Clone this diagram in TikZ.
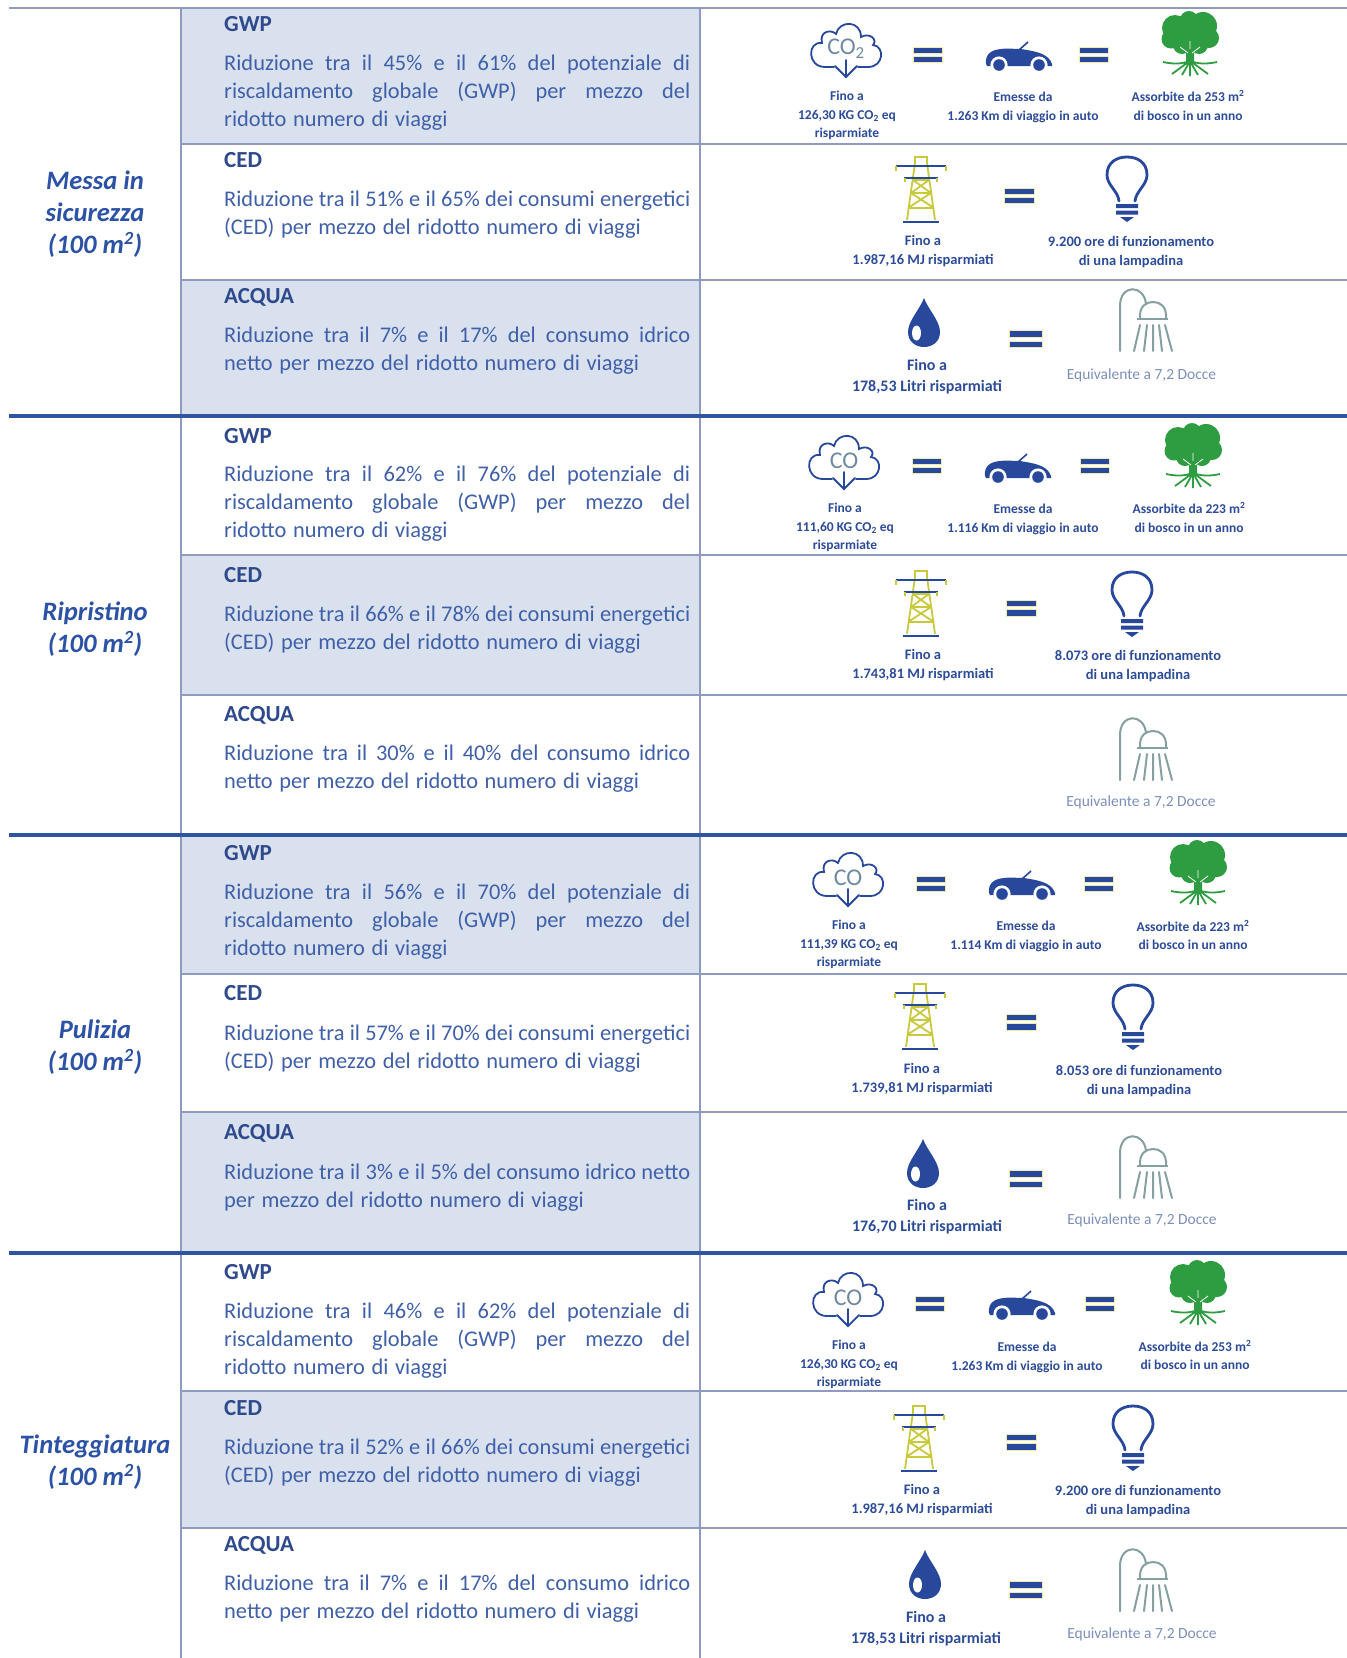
\documentclass[tikz,border=0pt]{standalone}
\usepackage{fontspec}
\setmainfont{Carlito}
\definecolor{shade}{HTML}{D9E1EF}
\definecolor{thinline}{HTML}{8E9AC0}
\definecolor{thickline}{HTML}{2F55A0}
\definecolor{bodyblue}{HTML}{3F60A8}
\definecolor{headblue}{HTML}{2F4A8C}
\definecolor{labelblue}{HTML}{2C52A6}
\definecolor{iconblue}{HTML}{28489C}
\definecolor{smallblue}{HTML}{2D4C98}
\definecolor{treegreen}{HTML}{2E9C40}
\definecolor{toweryellow}{HTML}{C9C93E}
\definecolor{showergrey}{HTML}{86A0A2}
\definecolor{eqedge}{HTML}{EFEBB0}
\definecolor{equivtext}{HTML}{7C90B8}
\newcommand{\jl}[1]{\leavevmode\hbox to 466pt{\spaceskip=4.6pt plus 1fil minus 1fil\rule{0pt}{17pt}#1}}
\newcommand{\rl}[1]{\leavevmode\hbox{\spaceskip=6.6pt\rule{0pt}{17pt}#1}}
\tikzset{
  rowline/.style={draw=thinline,line width=1.2pt},
  blockline/.style={draw=thickline,line width=3.4pt},
  colline/.style={draw=thinline,line width=1.2pt},
  shaded/.style={fill=shade,draw=none},
  headtext/.style={anchor=west,inner sep=0pt,yshift=-1pt,text=headblue,font=\fontsize{23}{26}\selectfont\bfseries},
  bodytext/.style={anchor=north west,inner sep=0pt,yshift=-1pt,text width=480pt,align=left,text=bodyblue,font=\fontsize{22.4}{28}\selectfont},
  blocklabel/.style={inner sep=0pt,yshift=-2pt,align=center,text=labelblue,font=\fontsize{26.6}{32}\selectfont\bfseries\itshape},
  small/.style={inner sep=0pt,yshift=-1.5pt,align=center,text=smallblue,font=\fontsize{13.5}{18.5}\selectfont\bfseries},
  waterfino/.style={inner sep=0pt,yshift=-1pt,align=center,text=smallblue,font=\fontsize{16}{21}\selectfont\bfseries},
  powertxt/.style={inner sep=0pt,yshift=-1pt,align=center,text=smallblue,font=\fontsize{14.5}{19}\selectfont\bfseries},
  equiv/.style={inner sep=0pt,yshift=-1pt,text=equivtext,font=\fontsize{15.5}{18}\selectfont},
  pics/eqicon/.style={code={
    \path[fill=iconblue,draw=eqedge,line width=.3pt] ({-#1/2},{-0.26*#1}) rectangle ({#1/2},{-0.05*#1});
    \path[fill=iconblue,draw=eqedge,line width=.3pt] ({-#1/2},{0.05*#1}) rectangle ({#1/2},{0.26*#1});
  }},
  pics/cloudicon/.style={code={
    \draw[iconblue,line width=1.8pt,line cap=round]
      (-12,19) -- (-21,19) .. controls (-39,19) and (-39,-7) .. (-24,-5)
      .. controls (-27,-17) and (-15,-19) .. (-10,-14)
      .. controls (-7,-28) and (15,-28) .. (15,-11)
      .. controls (24,-16) and (32,-8) .. (27,-3)
      .. controls (39,-2) and (38,19) .. (22,19) -- (12,19);
    \draw[iconblue,line width=1.8pt,line cap=round] (0,12) -- (0,29);
    \draw[iconblue,line width=1.8pt,line cap=round] (-11,18) -- (0,29) -- (11,18);
    \node[inner sep=0pt,text=showergrey!75!iconblue,font=\fontsize{24}{24}\selectfont] (-t) at (0,1) {#1};
  }},
  pics/caricon/.style={code={
    \fill[iconblue] (-33,8) .. controls (-34,-2) and (-28,-6) .. (-18,-7)
      .. controls (-12,-8) and (-6,-7) .. (2,-7) -- (8,-6)
      .. controls (20,-4) and (30,-1) .. (33,8) -- (33,10) -- (-32,10) -- cycle;
    \draw[iconblue,line width=1.6pt] (0,-6) -- (9,-14);
    \fill[white] (-20,9) circle (8.6pt);
    \fill[white] (20,9) circle (8.6pt);
    \fill[iconblue] (-20,9) circle (5.8pt);
    \fill[iconblue] (20,9) circle (5.8pt);
  }},
  pics/treeicon/.style={code={
    \fill[treegreen] (-15,-16) circle (13pt) (13,-18) circle (14pt) (-1,-24) circle (9pt)
      (-19,-5) circle (9.5pt) (19,-6) circle (10pt) (0,-12) circle (14pt) (-8,1) circle (9pt) (9,1) circle (9pt) (-14,-10) circle (10pt) (14,-10) circle (10pt);
    \fill[treegreen] (-4,6) -- (-14,-2) -- (-11,-4) -- (-2,1) -- (-1,-8) -- (2,-8) -- (3,1) -- (11,-4) -- (14,-2) -- (4,6) -- (4,20) -- (-4,20) -- cycle;
    \draw[white,line width=.8pt] (-2,9) -- (-10,3) (2,9) -- (10,3) (0,5) -- (0,-3);
    \draw[treegreen,line width=1.8pt]
      (-3,18) .. controls (-10,20) and (-18,20) .. (-27,18)
      (3,18) .. controls (10,20) and (18,20) .. (27,18)
      (-3,19) -- (-18,30) (-1,19) -- (-8,31) (0,19) -- (0,32) (1,19) -- (8,31) (3,19) -- (18,30);
  }},
  pics/towericon/.style={code={
    \draw[toweryellow,line width=1.8pt]
      (-6,-27) -- (-6,-33) -- (6,-33) -- (6,-27)
      (-6,-27) -- (-14,30) (6,-27) -- (14,30)
      (-8,-10) -- (8,-10) (-10,3) -- (10,3) (-13,18) -- (13,18)
      (-8,-10) -- (10,3) (8,-10) -- (-10,3)
      (-10,3) -- (13,18) (10,3) -- (-13,18);
    \draw[iconblue,line width=2pt] (-25,-24) -- (25,-24) (-17,-12) -- (17,-12) (-18,32) -- (18,32);
    \draw[toweryellow,line width=1.2pt] (-25,-24) -- (-25,-19) (25,-24) -- (25,-19) (-16,-12) -- (-16,-8) (16,-12) -- (16,-8);
  }},
  pics/bulbicon/.style={code={
    \draw[iconblue,line width=2.8pt,line cap=round,line join=round]
      (-8,12) .. controls (-9,2) and (-20,-4) .. (-20,-14)
      .. controls (-20,-27) and (-10,-32) .. (0,-32)
      .. controls (10,-32) and (20,-27) .. (20,-14)
      .. controls (20,-4) and (9,2) .. (8,12);
    \fill[iconblue] (-11,15) rectangle (11,19) (-11,21.5) rectangle (11,25.5) (-7,28) -- (7,28) -- (0,33) -- cycle;
  }},
  pics/dropicon/.style={code={
    \fill[iconblue] (0,-25) .. controls (4,-14) and (16,-2) .. (16,9)
      .. controls (16,19) and (8,24) .. (0,24)
      .. controls (-8,24) and (-16,19) .. (-16,9)
      .. controls (-16,-2) and (-4,-14) .. (0,-25) -- cycle;
    \fill[white] (-7.5,10) ellipse (4.5pt and 7.5pt);
  }},
  pics/showericon/.style={code={
    \draw[showergrey,line width=2pt,line cap=round]
      (-27,31) -- (-27,-14) .. controls (-27,-36) and (-3,-36) .. (-1,-16);
    \draw[showergrey,line width=2pt]
      (-7,-1) .. controls (-8,-14) and (-1,-18) .. (6,-18)
      .. controls (13,-18) and (20,-14) .. (19,-1);
    \draw[showergrey,line width=2.4pt] (-10,-1) -- (21,-1);
    \draw[showergrey,line width=2pt,line cap=round]
      (-7,5) -- (-13,31) (0,5) -- (-3,31) (6,5) -- (6,31) (12,5) -- (15,31) (18,5) -- (25,31);
  }}
}
\begin{document}
\begin{tikzpicture}[x=1pt,y=-1pt]
\useasboundingbox (0,0) rectangle (1347,1658);
\fill[white] (0,0) rectangle (1347,1658);
% shaded cells
\path[shaded] (181,8) rectangle (700,144);
\path[shaded] (181,280) rectangle (700,416);
\path[shaded] (181,555) rectangle (700,695);
\path[shaded] (181,835) rectangle (700,974);
\path[shaded] (181,1112) rectangle (700,1253);
\path[shaded] (181,1391) rectangle (700,1528);
% rules
\draw[colline] (181,8) -- (181,1658);
\draw[colline] (700,8) -- (700,1658);
\draw[rowline] (9,8) -- (1347,8);
\foreach \yy in {144,280,555,695,974,1112,1391,1528} \draw[rowline] (181,\yy) -- (1347,\yy);
\foreach \yy in {416,835,1253} \draw[blockline] (9,\yy) -- (1347,\yy);
% block labels
\node[blocklabel] (lab1) at (95,212) {Messa in\\sicurezza\\(100 m\textsuperscript{2})};
\node[blocklabel] (lab2) at (95,627) {Ripristino\\(100 m\textsuperscript{2})};
\node[blocklabel] (lab3) at (95,1045) {Pulizia\\(100 m\textsuperscript{2})};
\node[blocklabel] (lab4) at (95,1460) {Tinteggiatura\\(100 m\textsuperscript{2})};
% block 1
\node[headtext] (h11) at (224,23) {GWP};
\node[bodytext] (b11) at (224,52) {\jl{Riduzione tra il 45\% e il 61\% del potenziale di}\\\jl{riscaldamento globale (GWP) per mezzo del}\\\rl{ridotto numero di viaggi}};
\node[headtext] (h12) at (224,159) {CED};
\node[bodytext] (b12) at (224,188) {\jl{Riduzione tra il 51\% e il 65\% dei consumi energetici}\\\rl{(CED) per mezzo del ridotto numero di viaggi}};
\node[headtext] (h13) at (224,296) {ACQUA};
\node[bodytext] (b13) at (224,324) {\jl{Riduzione tra il 7\% e il 17\% del consumo idrico}\\\rl{netto per mezzo del ridotto numero di viaggi}};
% block 2
\node[headtext] (h21) at (224,435) {GWP};
\node[bodytext] (b21) at (224,463) {\jl{Riduzione tra il 62\% e il 76\% del potenziale di}\\\jl{riscaldamento globale (GWP) per mezzo del}\\\rl{ridotto numero di viaggi}};
\node[headtext] (h22) at (224,574) {CED};
\node[bodytext] (b22) at (224,603) {\jl{Riduzione tra il 66\% e il 78\% dei consumi energetici}\\\rl{(CED) per mezzo del ridotto numero di viaggi}};
\node[headtext] (h23) at (224,714) {ACQUA};
\node[bodytext] (b23) at (224,742) {\jl{Riduzione tra il 30\% e il 40\% del consumo idrico}\\\rl{netto per mezzo del ridotto numero di viaggi}};
% block 3
\node[headtext] (h31) at (224,852) {GWP};
\node[bodytext] (b31) at (224,881) {\jl{Riduzione tra il 56\% e il 70\% del potenziale di}\\\jl{riscaldamento globale (GWP) per mezzo del}\\\rl{ridotto numero di viaggi}};
\node[headtext] (h32) at (224,992) {CED};
\node[bodytext] (b32) at (224,1022) {\jl{Riduzione tra il 57\% e il 70\% dei consumi energetici}\\\rl{(CED) per mezzo del ridotto numero di viaggi}};
\node[headtext] (h33) at (224,1132) {ACQUA};
\node[bodytext] (b33) at (224,1161) {\jl{Riduzione tra il 3\% e il 5\% del consumo idrico netto}\\\rl{per mezzo del ridotto numero di viaggi}};
% block 4
\node[headtext] (h41) at (224,1271) {GWP};
\node[bodytext] (b41) at (224,1300) {\jl{Riduzione tra il 46\% e il 62\% del potenziale di}\\\jl{riscaldamento globale (GWP) per mezzo del}\\\rl{ridotto numero di viaggi}};
\node[headtext] (h42) at (224,1407) {CED};
\node[bodytext] (b42) at (224,1436) {\jl{Riduzione tra il 52\% e il 66\% dei consumi energetici}\\\rl{(CED) per mezzo del ridotto numero di viaggi}};
\node[headtext] (h43) at (224,1544) {ACQUA};
\node[bodytext] (b43) at (224,1572) {\jl{Riduzione tra il 7\% e il 17\% del consumo idrico}\\\rl{netto per mezzo del ridotto numero di viaggi}};
% icons block 1
\pic (c1) at (846,48) {cloudicon={CO\textsubscript{2}}};
\pic at (928,55) {eqicon=29};
\pic at (1019,56) {caricon};
\pic at (1094,55) {eqicon=29};
\pic at (1190,44) {treeicon};
\node[small] (t1a) at (847,114) {Fino a\\126,30 KG CO\textsubscript{2} eq\\risparmiate};
\node[small] (t1b) at (1023,106) {Emesse da\\1.263 Km di viaggio in auto};
\node[small] (t1c) at (1188,104) {Assorbite da 253 m\textsuperscript{2}\\di bosco in un anno};
\pic at (921,190) {towericon};
\pic at (1019,195.5) {eqicon=30};
\pic at (1127,189) {bulbicon};
\node[powertxt] (t1d) at (923,250) {Fino a\\1.987,16 MJ risparmiati};
\node[powertxt] (t1e) at (1131,251) {9.200 ore di funzionamento\\di una lampadina};
\pic at (924,323) {dropicon};
\pic at (1026,339) {eqicon=33};
\pic at (1147,320) {showericon};
\node[waterfino] (t1f) at (927,375.5) {Fino a\\178,53 Litri risparmiati};
\node[equiv] (t1g) at (1141.5,374) {Equivalente a 7,2 Docce};
% icons block 2
\pic (c2) at (844,460) {cloudicon={CO}};
\pic at (927,466) {eqicon=29};
\pic at (1018,468) {caricon};
\pic at (1095,466) {eqicon=29};
\pic at (1193,456) {treeicon};
\node[small] (t2a) at (845,526) {Fino a\\111,60 KG CO\textsubscript{2} eq\\risparmiate};
\node[small] (t2b) at (1023,518) {Emesse da\\1.116 Km di viaggio in auto};
\node[small] (t2c) at (1189,516) {Assorbite da 223 m\textsuperscript{2}\\di bosco in un anno};
\pic at (921,604) {towericon};
\pic at (1021,608) {eqicon=30};
\pic at (1132,604) {bulbicon};
\node[powertxt] (t2d) at (923,664) {Fino a\\1.743,81 MJ risparmiati};
\node[powertxt] (t2e) at (1138,665.5) {8.073 ore di funzionamento\\di una lampadina};
\pic at (1147,749) {showericon};
\node[equiv] (t2g) at (1141,801.5) {Equivalente a 7,2 Docce};
% icons block 3
\pic (c3) at (848,877) {cloudicon={CO}};
\pic at (931,884) {eqicon=29};
\pic at (1022,885) {caricon};
\pic at (1099,884) {eqicon=29};
\pic at (1198,873) {treeicon};
\node[small] (t3a) at (849,943) {Fino a\\111,39 KG CO\textsubscript{2} eq\\risparmiate};
\node[small] (t3b) at (1026,935) {Emesse da\\1.114 Km di viaggio in auto};
\node[small] (t3c) at (1193,933.5) {Assorbite da 223 m\textsuperscript{2}\\di bosco in un anno};
\pic at (920,1017) {towericon};
\pic at (1021,1022) {eqicon=30};
\pic at (1133,1017) {bulbicon};
\node[powertxt] (t3d) at (922,1078) {Fino a\\1.739,81 MJ risparmiati};
\node[powertxt] (t3e) at (1139,1080) {8.053 ore di funzionamento\\di una lampadina};
\pic at (923,1164) {dropicon};
\pic at (1026,1179) {eqicon=33};
\pic at (1147,1167) {showericon};
\node[waterfino] (t3f) at (927,1215.5) {Fino a\\176,70 Litri risparmiati};
\node[equiv] (t3g) at (1142,1219) {Equivalente a 7,2 Docce};
% icons block 4
\pic (c4) at (848,1297) {cloudicon={CO}};
\pic at (930,1304) {eqicon=29};
\pic at (1022,1305) {caricon};
\pic at (1100,1304) {eqicon=29};
\pic at (1198,1293) {treeicon};
\node[small] (t4a) at (849,1363) {Fino a\\126,30 KG CO\textsubscript{2} eq\\risparmiate};
\node[small] (t4b) at (1027,1356) {Emesse da\\1.263 Km di viaggio in auto};
\node[small] (t4c) at (1195,1353.5) {Assorbite da 253 m\textsuperscript{2}\\di bosco in un anno};
\pic at (919,1439) {towericon};
\pic at (1021,1442) {eqicon=30};
\pic at (1133,1438) {bulbicon};
\node[powertxt] (t4d) at (922,1499) {Fino a\\1.987,16 MJ risparmiati};
\node[powertxt] (t4e) at (1138,1500) {9.200 ore di funzionamento\\di una lampadina};
\pic at (925,1575) {dropicon};
\pic at (1026,1590) {eqicon=33};
\pic at (1147,1580) {showericon};
\node[waterfino] (t4f) at (926,1627.5) {Fino a\\178,53 Litri risparmiati};
\node[equiv] (t4g) at (1142,1633.5) {Equivalente a 7,2 Docce};
\end{tikzpicture}
\end{document}
